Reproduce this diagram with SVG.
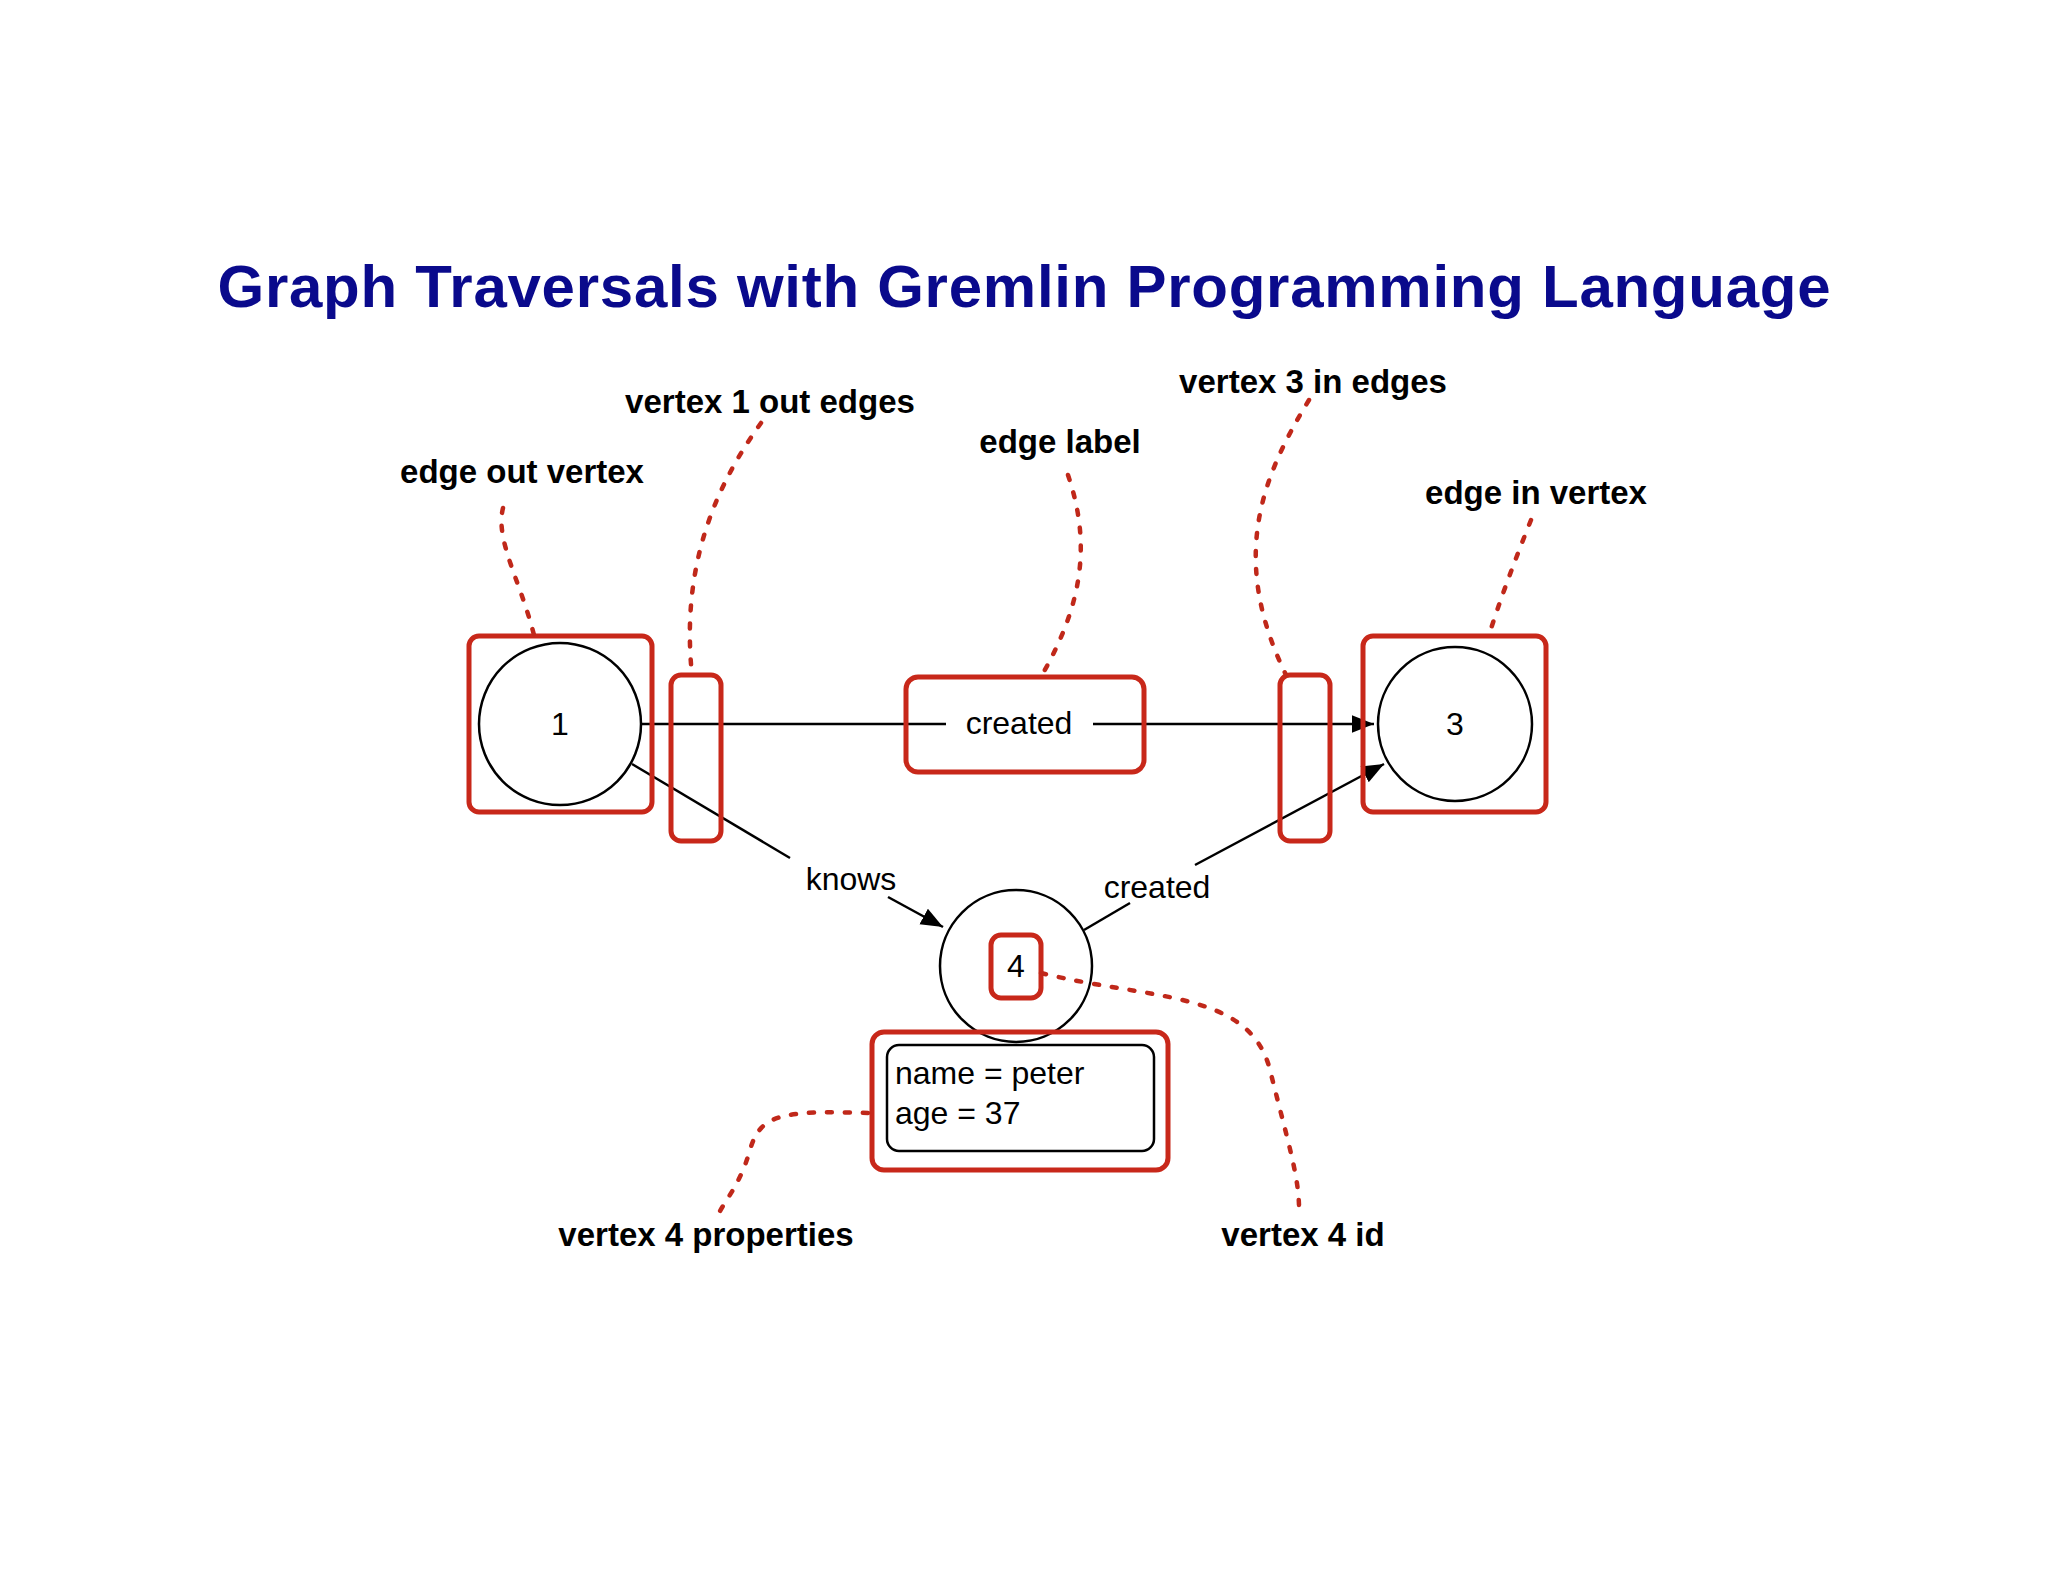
<svg xmlns="http://www.w3.org/2000/svg" width="2048" height="1582" viewBox="0 0 2048 1582">
<style>
.t{font-family:"Liberation Sans",Arial,sans-serif;fill:#000}
.lb{font-family:"Liberation Sans",Arial,sans-serif;font-weight:bold;font-size:33px;fill:#000;text-anchor:middle}
.red{fill:none;stroke:#c8281a;stroke-width:5}
.blk{fill:#fff;stroke:#000;stroke-width:2.5}
.dot{fill:none;stroke:#c0281a;stroke-width:4.5;stroke-linecap:round;stroke-dasharray:5 13}
.ln{stroke:#000;stroke-width:2.5;fill:none}
</style>
<defs>
<marker id="arb" viewBox="0 0 10 10" refX="10" refY="5" markerWidth="22" markerHeight="22" markerUnits="userSpaceOnUse" orient="auto"><path d="M0,1 L10,5 L0,9 z" fill="#000"/></marker></defs>
<rect width="2048" height="1582" fill="#fff"/>
<text x="1024" y="307" text-anchor="middle" font-family="Liberation Sans, Arial, sans-serif" font-weight="bold" font-size="60" fill="#0a0a8c" textLength="1613" lengthAdjust="spacing">Graph Traversals with Gremlin Programming Language</text>
<g id="connectors">
<path class="ln" d="M642 724 H946"/>
<path class="ln" d="M1093 724 H1374" marker-end="url(#arb)"/>
<path class="ln" d="M632 764 L790 858"/>
<path class="ln" d="M888 897 L943 927" marker-end="url(#arb)"/>
<path class="ln" d="M1084 930 L1130 903"/>
<path class="ln" d="M1195 865 L1384 764" marker-end="url(#arb)"/>
<text class="t" x="851" y="890" font-size="32" text-anchor="middle">knows</text>
<text class="t" x="1157" y="898" font-size="32" text-anchor="middle">created</text>
</g>
<g id="node1"><circle class="blk" cx="560" cy="724" r="81"/><text class="t" x="560" y="735" font-size="32" text-anchor="middle">1</text></g>
<g id="node3"><circle class="blk" cx="1455" cy="724" r="77"/><text class="t" x="1455" y="735" font-size="32" text-anchor="middle">3</text></g>
<g id="node4"><circle class="blk" cx="1016" cy="966" r="76"/><text class="t" x="1016" y="977" font-size="32" text-anchor="middle">4</text></g>
<g id="props"><rect class="blk" x="887" y="1045" width="267" height="106" rx="12"/>
<text class="t" x="895" y="1084" font-size="32">name = peter</text><text class="t" x="895" y="1124" font-size="32">age = 37</text></g>
<g id="edgelabel"><text class="t" x="1019" y="734" font-size="32" text-anchor="middle">created</text></g>
<g id="highlights">
<rect class="red" x="469" y="636" width="183" height="176" rx="10"/>
<rect class="red" x="1363" y="636" width="183" height="176" rx="10"/>
<rect class="red" x="671" y="675" width="50" height="166" rx="10"/>
<rect class="red" x="1280" y="675" width="50" height="166" rx="10"/>
<rect class="red" x="906" y="677" width="238" height="95" rx="12"/>
<rect class="red" x="991" y="935" width="50" height="63" rx="10"/>
<rect class="red" x="872" y="1032" width="296" height="138" rx="12"/>
</g>
<g id="leaders">
<path class="dot" d="M503 508 C495 540 520 580 534 635"/>
<path class="dot" d="M761 423 C720 480 680 560 692 675"/>
<path class="dot" d="M1068 475 C1090 540 1085 600 1042 675"/>
<path class="dot" d="M1309 400 C1260 480 1230 560 1286 675"/>
<path class="dot" d="M1531 520 C1515 560 1500 600 1489 635"/>
<path class="dot" d="M1041 973 C1150 1000 1250 990 1270 1070 S1300 1180 1299 1215"/>
<path class="dot" d="M868 1113 C780 1110 760 1115 750 1150 S725 1200 718 1215"/>
</g>
<g id="labels">
<text class="lb" x="522" y="483">edge out vertex</text>
<text class="lb" x="770" y="413">vertex 1 out edges</text>
<text class="lb" x="1060" y="453">edge label</text>
<text class="lb" x="1313" y="393">vertex 3 in edges</text>
<text class="lb" x="1536" y="504">edge in vertex</text>
<text class="lb" x="706" y="1246">vertex 4 properties</text>
<text class="lb" x="1303" y="1246">vertex 4 id</text>
</g>
</svg>
